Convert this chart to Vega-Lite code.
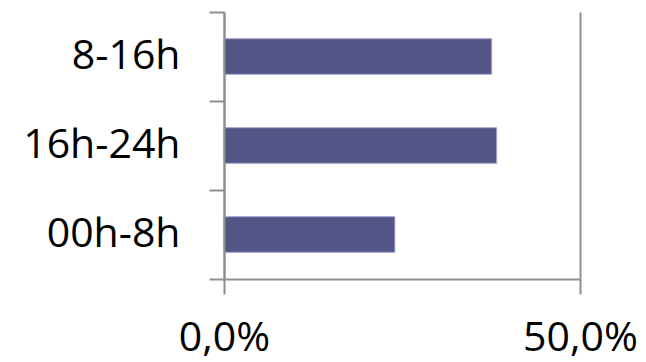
{
  "$schema": "https://vega.github.io/schema/vega-lite/v6.json",
  "width": 356,
  "height": 267,
  "autosize": "none",
  "padding": {"left": 224, "top": 12, "right": 66, "bottom": 83},
  "background": "white",
  "config": {"view": {"stroke": null}, "font": "Open Sans"},
  "data": {"values": [
    {"period": "8-16h", "share": 0.376},
    {"period": "16h-24h", "share": 0.383},
    {"period": "00h-8h", "share": 0.240}
  ]},
  "mark": {"type": "bar", "color": "#535587", "stroke": "#a5a6cf", "strokeWidth": 1, "height": {"band": 0.4}},
  "encoding": {
    "y": {
      "field": "period", "type": "nominal", "sort": null,
      "scale": {"paddingInner": 0, "paddingOuter": 0},
      "axis": {
        "title": null, "tickBand": "extent", "tickSize": 15, "tickWidth": 2, "tickColor": "#8f8f8f",
        "domain": true, "domainColor": "#8f8f8f", "domainWidth": 2, "labelFont": "Open Sans", "labelFontSize": 41,
        "labelColor": "#000000", "labelPadding": 29, "grid": false
      }
    },
    "x": {
      "field": "share", "type": "quantitative",
      "scale": {"domain": [0, 0.5], "nice": false},
      "axis": {
        "title": null, "values": [0, 0.5], "format": ".1%", "labelExpr": "replace(datum.label, '.', ',')",
        "domain": true, "tickSize": 15, "tickWidth": 2, "tickColor": "#8f8f8f", "domainColor": "#8f8f8f", "domainWidth": 2,
        "grid": true, "gridColor": "#8f8f8f", "gridWidth": 2, "zindex": 1,
        "labelFont": "Open Sans", "labelFontSize": 41, "labelColor": "#000000", "labelPadding": 24,
        "labelFlush": false
      }
    }
  }
}
